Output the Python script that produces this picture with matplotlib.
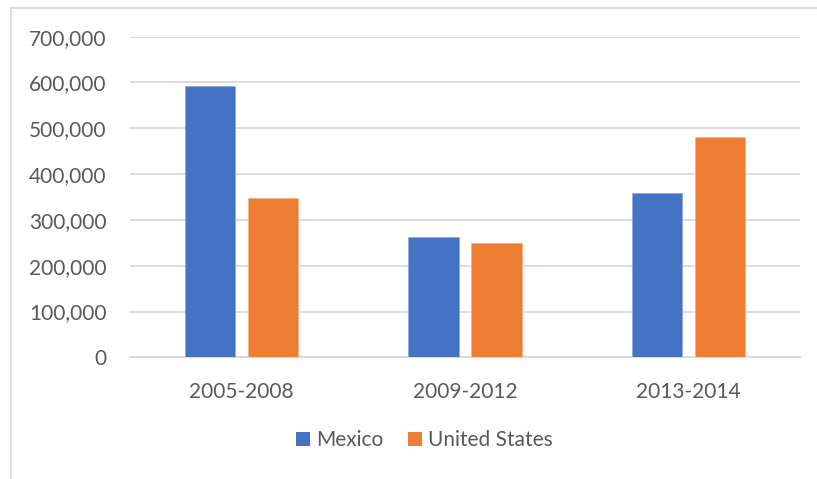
import matplotlib
matplotlib.use("Agg")
import matplotlib.pyplot as plt
from matplotlib.patches import Rectangle, Patch
from matplotlib.ticker import FuncFormatter
import numpy as np

categories = ["2005-2008", "2009-2012", "2013-2014"]
mexico = [592000, 262000, 359000]
united_states = [347000, 249000, 482000]
series_names = ["Mexico", "United States"]
colors = ["#4472C4", "#ED7D31"]

plt.rcParams["font.family"] = ["Lato", "DejaVu Sans"]
text_color = "#595959"
grid_color = "#D9D9D9"

W, H = 817, 479
fig = plt.figure(figsize=(W / 100, H / 100), dpi=100)

# chart-area border (runs off the right and bottom edges)
fig.patches.append(Rectangle((11 / W, -0.1), 1.0, 1.1 - 7.5 / H,
                             transform=fig.transFigure, fill=False,
                             edgecolor=grid_color, linewidth=1.3))

ax = fig.add_axes([130 / W, (H - 357.3) / H, 670 / W, 320.6 / H])

x = np.arange(len(categories))
width = 0.224
offset = 0.141
ax.bar(x - offset, mexico, width, color=colors[0], zorder=3,
       edgecolor="#8FAADC", linewidth=0.6)
ax.bar(x + offset, united_states, width, color=colors[1], zorder=3,
       edgecolor="#F4B183", linewidth=0.6)

ax.set_xlim(-0.5, len(categories) - 0.5)
ax.set_ylim(0, 700000)
ax.set_yticks(np.arange(0, 700001, 100000))
ax.yaxis.set_major_formatter(FuncFormatter(lambda v, p: f"{int(v):,}"))
ax.set_xticks(x)
ax.set_xticklabels(categories)

ax.grid(axis="y", color=grid_color, linewidth=1.3, zorder=0)
for s in ["top", "right", "left"]:
    ax.spines[s].set_visible(False)
ax.spines["bottom"].set_color(grid_color)
ax.spines["bottom"].set_linewidth(1.3)
ax.tick_params(axis="both", length=0, labelsize=15, labelcolor=text_color)
ax.tick_params(axis="y", pad=17)
ax.tick_params(axis="x", pad=18)

handles = [Patch(facecolor=c, edgecolor="none") for c in colors]
fig.legend(handles, series_names, loc="center",
           bbox_to_anchor=(424.5 / W, (H - 440) / H), ncol=2, frameon=False,
           fontsize=15, labelcolor=text_color, handlelength=0.67,
           handleheight=0.67, handletextpad=0.3, columnspacing=1.2)

fig.savefig("out.png", dpi=100)
